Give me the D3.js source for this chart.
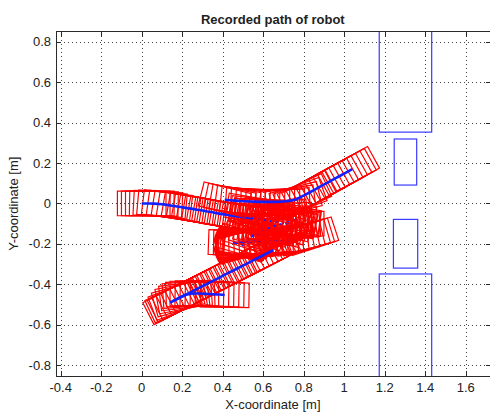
<!DOCTYPE html>
<html>
<head>
<meta charset="utf-8">
<script src="https://cdn.jsdelivr.net/npm/d3@7"></script>
<style>
  html, body { margin: 0; padding: 0; background: #fff; }
  svg { display: block; }
  text { font-family: "Liberation Sans", Arial, Helvetica, sans-serif; fill: #222; }
</style>
</head>
<body>
<svg id="chart" width="490" height="412"></svg>
<script>
// ---------------- data ----------------
const titleText = "Recorded path of robot";
const xLabelText = "X-coordinate [m]";
const yLabelText = "Y-coordinate [m]";
const xTicks = [-0.4, -0.2, 0, 0.2, 0.4, 0.6, 0.8, 1, 1.2, 1.4, 1.6];
const yTicks = [-0.8, -0.6, -0.4, -0.2, 0, 0.2, 0.4, 0.6, 0.8];

// obstacles: [xmin, xmax, ymin, ymax]
const obstacles = [
  [1.173, 1.432, 0.353, 1.2],
  [1.247, 1.358, 0.091, 0.319],
  [1.243, 1.363, -0.320, -0.079],
  [1.173, 1.432, -1.2, -0.349]
];

// robot footprint (m)
const robotLength = 0.24;
const robotWidth = 0.122;

// recorded poses [x, y, heading in degrees]
const segA = [
  [0,0,0],[0.02,0,0],[0.04,0,0],[0.06,-0.001,-1],[0.08,-0.002,-3],[0.10,-0.004,-5],
  [0.125,-0.007,-7],[0.15,-0.011,-8],[0.175,-0.015,-9],[0.20,-0.019,-9],[0.225,-0.023,-10],
  [0.25,-0.027,-10],[0.275,-0.031,-10],[0.30,-0.035,-10],[0.325,-0.040,-10],[0.35,-0.044,-10],
  [0.375,-0.049,-10],[0.40,-0.053,-10],[0.425,-0.057,-9],[0.45,-0.061,-9],[0.475,-0.064,-8],
  [0.50,-0.067,-8],[0.525,-0.070,-8],[0.55,-0.073,-8]
];
const segM = [
  [0.575,-0.077,-8],[0.60,-0.080,-8],[0.625,-0.084,-8],[0.65,-0.088,-8],[0.675,-0.092,-6],
  [0.70,-0.095,-4],[0.72,-0.097,0],[0.72,-0.097,6],[0.72,-0.097,12],[0.70,-0.10,10],
  [0.68,-0.105,6],[0.66,-0.11,2],[0.64,-0.118,-2],[0.62,-0.126,-6],[0.60,-0.135,-10],
  [0.58,-0.145,-14],[0.56,-0.155,-16],[0.54,-0.165,-18],[0.52,-0.178,-18],[0.50,-0.19,-16]
];
const segW = [
  [0.56,-0.06,-15],[0.58,-0.065,-10],[0.60,-0.07,-5],[0.62,-0.07,0],[0.64,-0.065,5],
  [0.66,-0.06,10],[0.68,-0.055,12],[0.70,-0.055,8],[0.72,-0.06,2],[0.74,-0.07,-4],
  [0.76,-0.08,-8],[0.74,-0.09,-12],[0.72,-0.10,-15],[0.70,-0.11,-18],[0.68,-0.12,-20],
  [0.66,-0.125,-15],[0.64,-0.13,-10],[0.62,-0.135,-5],[0.60,-0.14,0],[0.62,-0.145,5],
  [0.64,-0.15,10],[0.66,-0.15,14],[0.68,-0.145,18],[0.70,-0.14,20],[0.72,-0.13,16],
  [0.74,-0.12,10],[0.76,-0.11,4],[0.78,-0.10,0],[0.76,-0.095,-5],[0.74,-0.09,-10],
  [0.72,-0.085,-14],[0.70,-0.08,-18],[0.68,-0.075,-20],[0.66,-0.07,-16],[0.64,-0.06,-12],
  [0.62,-0.05,-8],[0.60,-0.045,-4],[0.58,-0.04,-2],[0.56,-0.035,-6],[0.54,-0.03,-10]
];
const segBlob = [
  [0.49,-0.200,-15],[0.49,-0.200,-13],[0.49,-0.201,-11],[0.49,-0.202,-9],[0.49,-0.203,-7],
  [0.49,-0.203,-5],[0.49,-0.204,-3],[0.49,-0.205,-1],[0.49,-0.205,1],[0.49,-0.206,3],
  [0.49,-0.207,5],[0.49,-0.207,7],[0.49,-0.208,9],[0.49,-0.209,11],[0.49,-0.209,13],
  [0.49,-0.210,15],[0.50,-0.205,10],[0.51,-0.20,5],[0.52,-0.195,0],[0.53,-0.19,-5]
];
const segC = [
  [0.45,-0.195,-2],[0.475,-0.194,-1],[0.50,-0.192,0],[0.525,-0.19,0],[0.55,-0.188,1],
  [0.575,-0.186,2],[0.60,-0.185,3],[0.625,-0.185,4],[0.65,-0.186,5],[0.675,-0.187,6],
  [0.70,-0.186,8],[0.725,-0.183,10],[0.75,-0.178,12],[0.775,-0.173,14],[0.80,-0.168,16],
  [0.82,-0.165,17],[0.84,-0.162,18]
];
const segE = [
  [0.65,-0.231,27],[0.628,-0.242,27],[0.606,-0.253,27],[0.584,-0.265,27],[0.561,-0.276,27],
  [0.539,-0.288,27],[0.517,-0.299,27],[0.495,-0.310,27],[0.472,-0.322,27],[0.450,-0.333,27],
  [0.428,-0.344,27],[0.406,-0.355,27],[0.384,-0.367,27],[0.361,-0.378,27],[0.339,-0.389,27],
  [0.317,-0.401,27],[0.295,-0.412,27],[0.273,-0.423,27],[0.250,-0.435,27],[0.228,-0.446,27],
  [0.206,-0.457,27],[0.184,-0.468,27],[0.162,-0.480,27],[0.140,-0.491,27]
];
const segD = [
  [0.15,-0.485,25],[0.165,-0.478,21],[0.18,-0.47,16],[0.195,-0.463,11],[0.21,-0.456,7],
  [0.225,-0.45,4],[0.24,-0.447,2],[0.26,-0.446,0],[0.285,-0.446,-1],[0.31,-0.447,-1],
  [0.335,-0.448,-1],[0.36,-0.45,-1],[0.385,-0.451,-1],[0.41,-0.453,-1]
];
const segB = [
  [0.41,0.018,-14],[0.435,0.016,-12],[0.46,0.014,-10],[0.485,0.012,-8],[0.51,0.011,-6],
  [0.535,0.010,-4],[0.56,0.009,-3],[0.585,0.008,-2],[0.61,0.008,-1],[0.635,0.008,0],
  [0.66,0.008,0],[0.685,0.009,1],[0.71,0.011,3],[0.735,0.014,8],[0.76,0.020,14],
  [0.782,0.030,20],[0.804,0.041,25],[0.826,0.053,28],[0.848,0.065,29],[0.870,0.077,29],
  [0.892,0.089,29],[0.914,0.101,29],[0.936,0.113,29],[0.958,0.125,29],[0.980,0.137,29],
  [1.002,0.149,29],[1.024,0.161,29],[1.040,0.170,29]
];

// ---------------- layout ----------------
const svg = d3.select("#chart");
const x = d3.scaleLinear().domain([-0.4232, 1.7232]).range([56, 490.65]);
const y = d3.scaleLinear().domain([-0.854, 0.851]).range([376, 31.5]);
const [x0, x1] = x.range();
const [y0, y1] = [y.range()[1], y.range()[0]];

const fmt = d => String(+d.toFixed(1));

svg.append("defs").append("clipPath").attr("id", "plotclip")
  .append("rect").attr("x", x0).attr("y", y0).attr("width", x1 - x0).attr("height", y1 - y0);

// grid
const grid = svg.append("g").attr("stroke", "#444").attr("stroke-width", 1)
  .attr("stroke-dasharray", "1,3").attr("shape-rendering", "crispEdges");
grid.selectAll("line.gx").data(xTicks).join("line")
  .attr("x1", d => Math.round(x(d)) + 0.5).attr("x2", d => Math.round(x(d)) + 0.5)
  .attr("y1", y0).attr("y2", y1);
grid.selectAll("line.gy").data(yTicks).join("line")
  .attr("y1", d => Math.round(y(d)) + 0.5).attr("y2", d => Math.round(y(d)) + 0.5)
  .attr("x1", x0).attr("x2", x1);

const plot = svg.append("g").attr("clip-path", "url(#plotclip)");

plot.selectAll("rect.obs").data(obstacles).join("rect")
  .attr("x", d => x(d[0])).attr("y", d => y(d[3]))
  .attr("width", d => x(d[1]) - x(d[0])).attr("height", d => y(d[2]) - y(d[3]))
  .attr("fill", "none").attr("stroke", "#3a3aff").attr("stroke-width", 1.2);

function footprint(p) {
  const t = p[2] * Math.PI / 180, c = Math.cos(t), s = Math.sin(t);
  const hl = robotLength / 2, hw = robotWidth / 2;
  const pts = [[-hl, -hw], [hl, -hw], [hl, hw], [-hl, hw]].map(([u, v]) =>
    [x(p[0] + u * c - v * s), y(p[1] + u * s + v * c)]);
  return "M" + pts.map(q => q.join(",")).join("L") + "Z";
}
const line = d3.line().x(d => x(d[0])).y(d => y(d[1]));

function drawRects(seg) {
  plot.append("g").selectAll("path").data(seg).join("path")
    .attr("d", footprint).attr("fill", "none").attr("stroke", "#ff0000").attr("stroke-width", 1.2);
}
function drawPath(seg, dash) {
  plot.append("path").datum(seg).attr("d", line).attr("fill", "none")
    .attr("stroke", "#1020ff").attr("stroke-width", 2.6)
    .attr("stroke-dasharray", dash || null);
}

drawRects(segBlob);
drawRects(segC);
drawPath(segC);
drawPath(segW, "2,5");
drawRects(segW);
drawPath(segM.concat(segBlob), "2,4");
drawRects(segM);
drawRects(segA);
drawPath(segA);
drawRects(segE);
drawRects(segD);
drawPath(segE);
drawPath(segD);
drawRects(segB);
drawPath(segB);

// axes box
const box = svg.append("g").attr("stroke", "#2a2a2a").attr("stroke-width", 1).attr("shape-rendering", "crispEdges");
box.append("rect").attr("x", x0).attr("y", y0).attr("width", x1 - x0).attr("height", y1 - y0).attr("fill", "none");

const tl = 5;
xTicks.forEach(d => {
  const px = Math.round(x(d)) + 0.5;
  box.append("line").attr("x1", px).attr("x2", px).attr("y1", y1).attr("y2", y1 - tl);
  box.append("line").attr("x1", px).attr("x2", px).attr("y1", y0).attr("y2", y0 + tl);
});
yTicks.forEach(d => {
  const py = Math.round(y(d)) + 0.5;
  box.append("line").attr("y1", py).attr("y2", py).attr("x1", x0).attr("x2", x0 + tl);
  box.append("line").attr("y1", py).attr("y2", py).attr("x1", x1).attr("x2", x1 - tl);
});

svg.append("g").selectAll("text").data(xTicks).join("text")
  .attr("x", d => x(d)).attr("y", 392).attr("text-anchor", "middle")
  .attr("font-size", 13).text(fmt);
svg.append("g").selectAll("text").data(yTicks).join("text")
  .attr("x", 51).attr("y", d => y(d) + 4.6).attr("text-anchor", "end")
  .attr("font-size", 13).text(fmt);

svg.append("text").attr("x", (x0 + x1) / 2 - 0.5).attr("y", 24).attr("text-anchor", "middle")
  .attr("font-size", 13).attr("font-weight", "bold").text(titleText);
svg.append("text").attr("x", (x0 + x1) / 2 - 0.5).attr("y", 409).attr("text-anchor", "middle")
  .attr("font-size", 13).text(xLabelText);
svg.append("text").attr("transform", `translate(18,${(y0 + y1) / 2}) rotate(-90)`)
  .attr("text-anchor", "middle").attr("font-size", 13).text(yLabelText);
</script>
</body>
</html>
